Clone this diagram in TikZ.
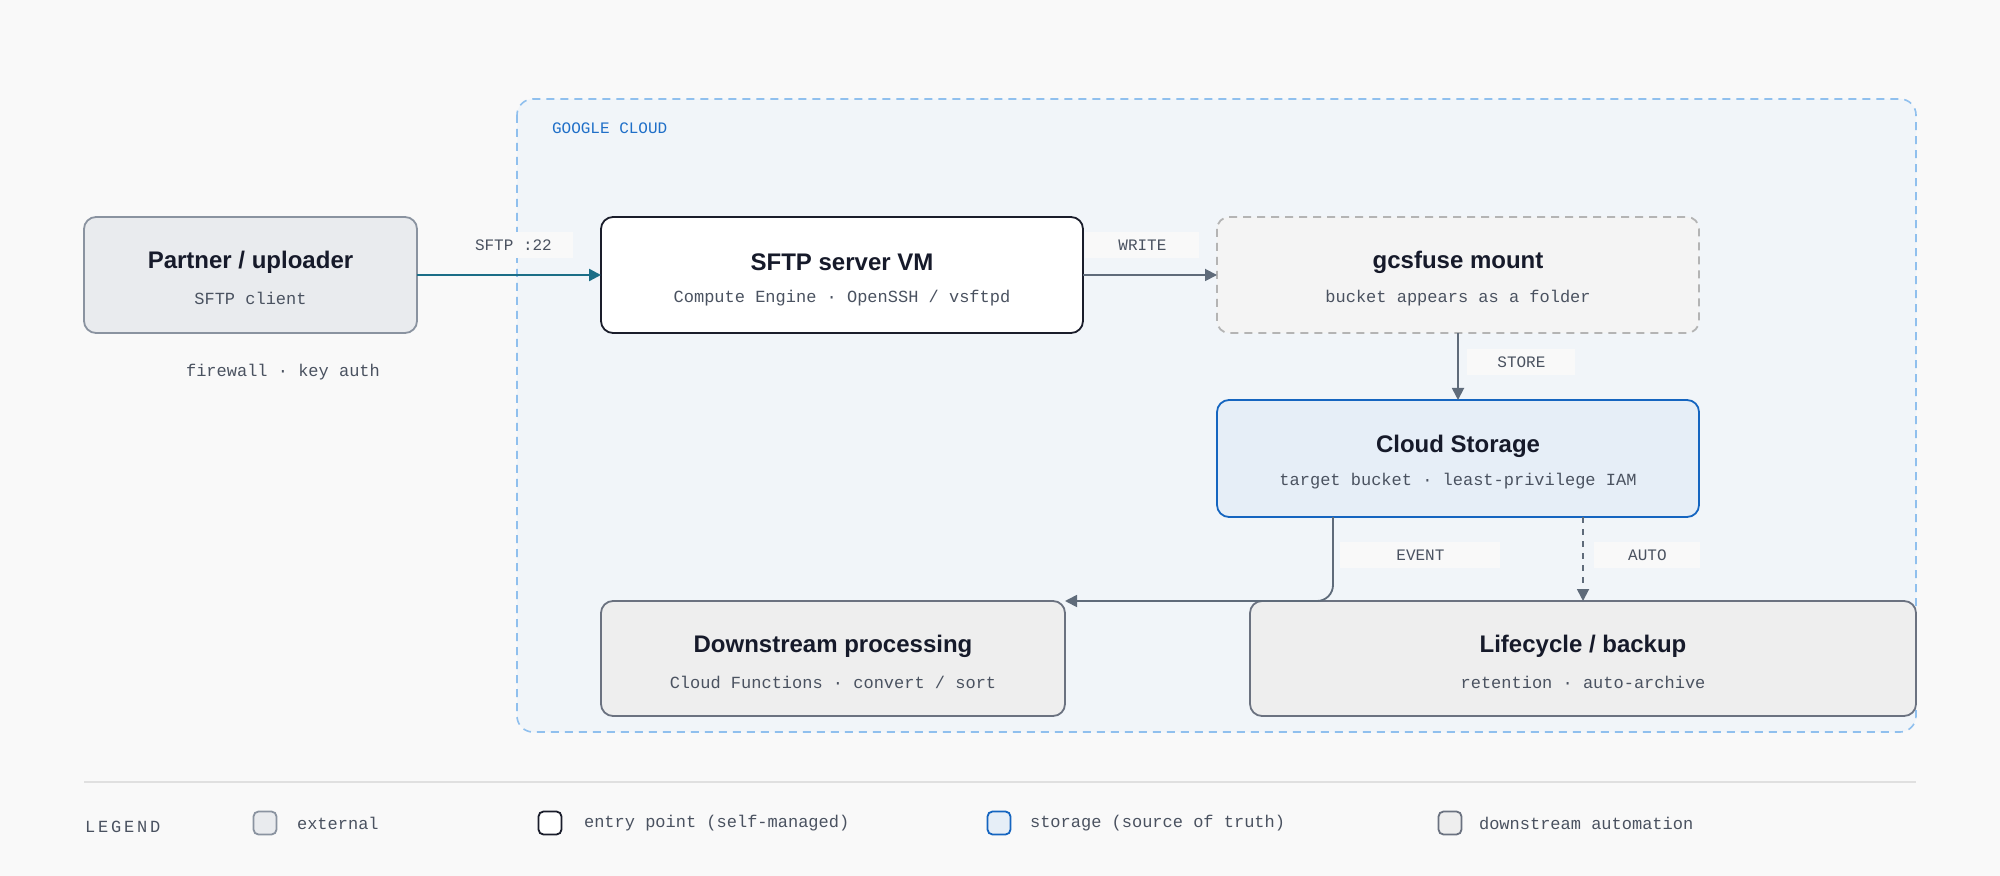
\documentclass[tikz,border=0pt]{standalone}
\usepackage{fontspec}
\setmainfont{Liberation Sans}
\setmonofont{Liberation Mono}
\usetikzlibrary{arrows.meta}
\definecolor{pagebg}{HTML}{F9F9F9}
\definecolor{cloudbg}{HTML}{F1F5F9}
\definecolor{cloudline}{HTML}{90C0EE}
\definecolor{cloudtext}{HTML}{1F6FC8}
\definecolor{extfill}{HTML}{E9EBEE}
\definecolor{extline}{HTML}{8A93A0}
\definecolor{vmline}{HTML}{1A1D2B}
\definecolor{fusefill}{HTML}{F4F4F4}
\definecolor{fuseline}{HTML}{B4B4B4}
\definecolor{storefill}{HTML}{E6EEF7}
\definecolor{storeline}{HTML}{1565C0}
\definecolor{downfill}{HTML}{EEEEEE}
\definecolor{downline}{HTML}{6B7280}
\definecolor{teal}{HTML}{1B6E87}
\definecolor{edgegray}{HTML}{5F6B7A}
\definecolor{subtext}{HTML}{4A5260}
\definecolor{titletext}{HTML}{161A2A}
\tikzset{
  card/.style={rounded corners=6pt, line width=0.9pt},
  cardtitle/.style={font=\bfseries\fontsize{12}{14}\selectfont, text=titletext},
  cardsub/.style={font=\ttfamily\fontsize{8.5}{10}\selectfont, text=subtext},
  flowlabel/.style={font=\ttfamily\fontsize{8}{10}\selectfont, text=subtext, fill=pagebg, anchor=west, inner xsep=5pt, inner ysep=4pt},
  flow/.style={-{Triangle[length=6pt,width=6pt]}, line width=0.9pt, draw=edgegray},
  legendbox/.style={rounded corners=2.5pt, line width=0.9pt, minimum size=11.5pt, inner sep=0pt},
  legendtext/.style={font=\ttfamily\fontsize{8.5}{10}\selectfont, text=subtext, anchor=west}
}
\begin{document}
\begin{tikzpicture}[x=0.5pt, y=-0.5pt]
                % Page and cloud area
                \fill[pagebg] (0,0) rectangle (2000,876);
                \useasboundingbox (0,0) rectangle (2000,876);
                \draw[cloudline, fill=cloudbg, dashed, dash pattern=on 4pt off 3pt, line width=0.8pt, rounded corners=8pt] (517,99) rectangle (1916,732);
                \node[anchor=west, font=\ttfamily\fontsize{8}{10}\selectfont, text=cloudtext] (gcp) at (545,128) {GOOGLE CLOUD};

                % Cards
                \draw[card, draw=extline, fill=extfill] (84,217) rectangle (417,333);
                \node[cardtitle] (partner) at (250.5,262) {Partner / uploader};
                \node[cardsub] (partnersub) at (250.5,298) {SFTP client};
                \node[cardsub] (fw) at (283,372) {firewall · key auth};

                \draw[card, draw=vmline, fill=white] (601,217) rectangle (1083,333);
                \node[cardtitle] (vm) at (842,262) {SFTP server VM};
                \node[cardsub] (vmsub) at (842,298) {Compute Engine · OpenSSH / vsftpd};

                \draw[card, draw=fuseline, fill=fusefill, dashed, dash pattern=on 4pt off 3pt] (1217,217) rectangle (1699,333);
                \node[cardtitle] (fuse) at (1458,262) {gcsfuse mount};
                \node[cardsub] (fusesub) at (1458,298) {bucket appears as a folder};

                \draw[card, draw=storeline, fill=storefill] (1217,400) rectangle (1699,517);
                \node[cardtitle] (gcs) at (1458,446) {Cloud Storage};
                \node[cardsub] (gcssub) at (1458,481) {target bucket · least-privilege IAM};

                \draw[card, draw=downline, fill=downfill] (601,601) rectangle (1065,716);
                \node[cardtitle] (down) at (833,646) {Downstream processing};
                \node[cardsub] (downsub) at (833,682) {Cloud Functions · convert / sort};

                \draw[card, draw=downline, fill=downfill] (1250,601) rectangle (1916,716);
                \node[cardtitle] (life) at (1583,646) {Lifecycle / backup};
                \node[cardsub] (lifesub) at (1583,682) {retention · auto-archive};

                % Connector ends
                \coordinate (vmW) at (601,275);
                \coordinate (partnerE) at (417,275);
                \coordinate (vmE) at (1083,275);
                \coordinate (fuseW) at (1217,275);
                \coordinate (fuseS) at (1458,333);
                \coordinate (gcsN) at (1458,400);
                \coordinate (gcsS1) at (1333,517);
                \coordinate (downNE) at (1065,601);
                \coordinate (gcsS2) at (1583,517);
                \coordinate (lifeN) at (1583,601);

                % Labels
                \node[flowlabel, minimum width=60pt] (l1) at (453,245) {SFTP :22};
                \node[flowlabel, minimum width=57pt] (l2) at (1085,245) {WRITE};
                \node[flowlabel, minimum width=54pt] (l3) at (1467,362) {STORE};
                \node[flowlabel, minimum width=80pt] (l4) at (1340,555) {EVENT};
                \node[flowlabel, minimum width=53pt] (l5) at (1594,555) {AUTO};

                % Connectors
                \draw[flow, draw=teal, line width=1.2pt] (partnerE) -- (vmW);
                \draw[flow] (vmE) -- (fuseW);
                \draw[flow] (fuseS) -- (gcsN);
                \draw[flow, rounded corners=8pt] (gcsS1) |- (downNE);
                \draw[flow, dashed] (gcsS2) -- (lifeN);

                % Legend
                \draw[line width=1pt, draw=black!12] (84,782) -- (1916,782);
                \node[anchor=west, font=\ttfamily\fontsize{8.5}{10}\selectfont, text=subtext] (legend) at (78,827) {L\,E\,G\,E\,N\,D};
                \node[legendbox, draw=extline, fill=extfill] (k1) at (265,823) {};
                \node[legendtext] at (290,823) {external};
                \node[legendbox, draw=vmline, fill=white] (k2) at (550,823) {};
                \node[legendtext] at (577,823) {entry point (self-managed)};
                \node[legendbox, draw=storeline, fill=storefill] (k3) at (999,823) {};
                \node[legendtext] at (1023,823) {storage (source of truth)};
                \node[legendbox, draw=downline, fill=downfill] (k4) at (1450,823) {};
                \node[legendtext] at (1472,823) {downstream automation};
            \end{tikzpicture}
\end{document}
